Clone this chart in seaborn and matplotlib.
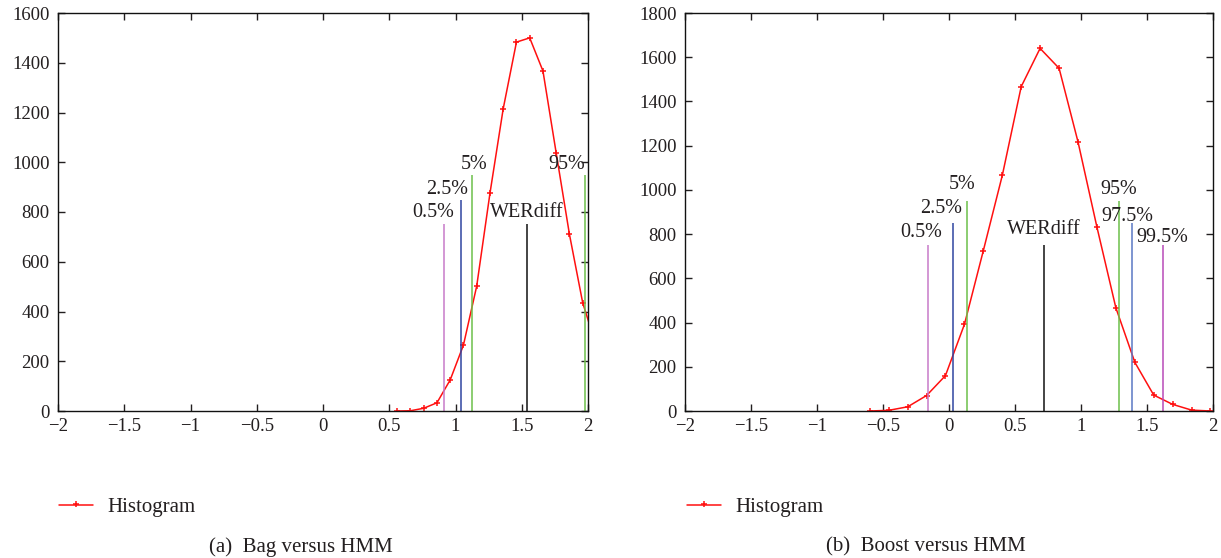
import numpy as np
import pandas as pd
import seaborn as sns
import matplotlib.pyplot as plt

# ---------- data ----------
bag_x = [0.56, 0.66, 0.76, 0.86, 0.96, 1.06, 1.16, 1.26, 1.36, 1.46,
         1.56, 1.66, 1.76, 1.86, 1.96, 2.06]
bag_counts = [0, 1, 11, 33, 125, 265, 502, 875, 1215, 1483,
              1500, 1367, 1037, 710, 435, 265]

boost_x = [-0.60, -0.457, -0.313, -0.17, -0.027, 0.117, 0.26, 0.404, 0.547, 0.69,
           0.834, 0.977, 1.121, 1.264, 1.408, 1.551, 1.694, 1.838, 1.981]
boost_counts = [0, 3, 19, 70, 160, 392, 725, 1066, 1467, 1640,
                1550, 1218, 831, 467, 220, 72, 30, 4, 0]

bag_marks = ["0.5%", "2.5%", "5%", "WERdiff", "95%"]
bag_mark_x = [0.913, 1.042, 1.122, 1.537, 1.975]
bag_mark_h = [750, 850, 950, 750, 950]

boost_marks = ["0.5%", "2.5%", "5%", "WERdiff", "95%", "97.5%", "99.5%"]
boost_mark_x = [-0.161, 0.028, 0.139, 0.720, 1.286, 1.386, 1.619]
boost_mark_h = [750, 850, 950, 750, 950, 850, 750]

xtick_vals = [-2, -1.5, -1, -0.5, 0, 0.5, 1, 1.5, 2]
xtick_text = ["\u22122", "\u22121.5", "\u22121", "\u22120.5", "0", "0.5", "1", "1.5", "2"]

# ---------- style ----------
mark_color = {"0.5%": "#c77ac9", "2.5%": "#2f45a0", "5%": "#6cc04a",
              "WERdiff": "#111111", "95%": "#6cc04a", "97.5%": "#5a78c4",
              "99.5%": "#b84ab8"}
# label offsets (px) relative to the top of each line
bag_off = [(-11, 7), (-14, 6), (2, 6), (0, 7), (-18, 6)]
boost_off = [(-7, 8), (-12, 10), (-5, 12), (0, 11), (0, 7), (-5, 2), (0, 3)]

sns.set_style("ticks")
plt.rcParams["font.family"] = ["Liberation Serif", "DejaVu Serif"]
TXT = "#231f20"

fig = plt.figure(figsize=(12.21, 5.58), dpi=100)
ax_l = fig.add_axes([58 / 1221, 147 / 558, 530 / 1221, 398 / 558])
ax_r = fig.add_axes([685 / 1221, 147 / 558, 528 / 1221, 398 / 558])


def draw(ax, xs, ys, marks, mx, mh, offs, ymax, legend_x):
    df = pd.DataFrame({"x": xs, "y": ys})
    sns.lineplot(data=df, x="x", y="y", ax=ax, color="#ff1010", lw=1.1,
                 marker="+", markersize=5, markeredgewidth=1.1,
                 markeredgecolor="#ff1010", label="Histogram", sort=False)
    for lab, x, h, (dx, dy) in zip(marks, mx, mh, offs):
        ax.vlines(x, 0, h, color=mark_color[lab], lw=1.1)
        ax.annotate(lab, (x, h), xytext=(dx * 0.72, dy * 0.72),
                    textcoords="offset points", ha="center", va="baseline",
                    fontsize=14.5, color=TXT, annotation_clip=False)
    ax.set_xlim(-2, 2)
    ax.set_ylim(0, ymax)
    ax.set_xticks(xtick_vals)
    ax.set_xticklabels(xtick_text)
    ax.set_yticks(np.arange(0, ymax + 1, 200))
    ax.set_xlabel("")
    ax.set_ylabel("")
    ax.tick_params(direction="in", length=5, width=1, top=True, right=True,
                   labelsize=13.5, colors=TXT)
    ax.tick_params(axis="x", pad=5)
    ax.tick_params(axis="y", pad=6)
    for s in ax.spines.values():
        s.set_visible(True)
        s.set_color("#111111")
        s.set_linewidth(1.0)
    ax.legend(loc="center left", bbox_to_anchor=(legend_x, 51 / 558),
              bbox_transform=fig.transFigure, frameon=False, fontsize=15,
              borderpad=0, borderaxespad=0, handlelength=1.65,
              handletextpad=0.65, labelcolor=TXT)


draw(ax_l, bag_x, bag_counts, bag_marks, bag_mark_x, bag_mark_h, bag_off,
     1600, 59 / 1221)
draw(ax_r, boost_x, boost_counts, boost_marks, boost_mark_x, boost_mark_h,
     boost_off, 1800, 687 / 1221)

fig.text(301 / 1221, 11 / 558, "(a)  Bag versus HMM", ha="center", va="center",
         fontsize=15, color=TXT)
fig.text(926 / 1221, 11 / 558, "(b)  Boost versus HMM", ha="center", va="center",
         fontsize=15, color=TXT)

fig.savefig("out.png", dpi=100)
